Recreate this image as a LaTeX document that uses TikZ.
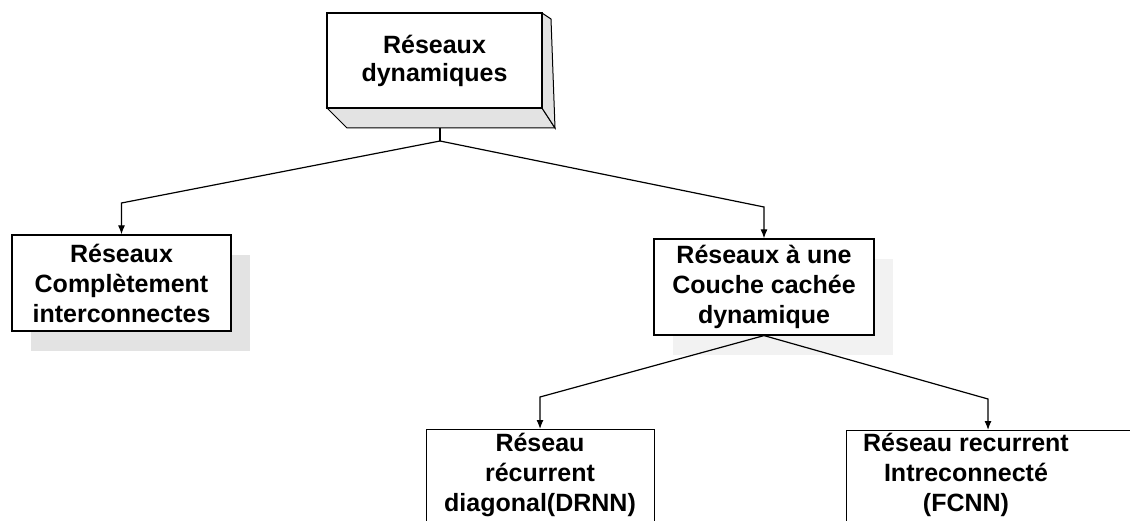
\documentclass[tikz,border=0pt]{standalone}
\usepackage{fontspec}
\setmainfont{Liberation Sans}
\usetikzlibrary{arrows.meta}
\begin{document}
\begin{tikzpicture}[x=1pt,y=-1pt,
  lbl/.style={font=\fontsize{25}{30}\selectfont\bfseries, align=center},
  box/.style={draw=black, line width=1.2pt, fill=white, inner sep=0pt},
  link/.style={draw=black, line width=1.2pt},
  arr/.style={link, -{Latex[length=9pt,width=7pt]}},
  shadow/.style={fill=black!11, draw=none},
  lightshadow/.style={fill=black!5, draw=none}]
\clip (0,0) rectangle (1130,521);
\fill[white] (0,0) rectangle (1130,521);

% top block: front face with shaded bottom and side faces
\path[shadow, draw=black, line width=1pt] (327,108) -- (542,108) -- (555,128) -- (347,128) -- cycle;
\path[shadow, draw=black, line width=1pt] (542,13) -- (551,19) -- (555,128) -- (542,108) -- cycle;
\node[box, lbl, font=\fontsize{25}{28}\selectfont\bfseries, minimum width=215pt, minimum height=95pt] (top) at (434.5,60.5) {Réseaux\\dynamiques};

% second level
\fill[shadow] (31,255) rectangle (250,351);
\node[box, lbl, minimum width=219pt, minimum height=96pt] (left) at (121.5,283) {Réseaux\\Complètement\\interconnectes};

\fill[lightshadow] (673,259) rectangle (893,355);
\node[box, lbl, minimum width=220pt, minimum height=96pt] (mid) at (764,287) {Réseaux à une\\Couche cachée\\dynamique};

% third level (boxes run past the lower edge)
\node[box, anchor=north west, minimum width=228pt, minimum height=150pt] (bl) at (426,429) {};
\node[lbl, anchor=north, inner sep=0pt] (blt) at (540,433) {Réseau\\récurrent\\diagonal(DRNN)};

\node[box, anchor=north west, minimum width=320pt, minimum height=150pt] (br) at (846,430) {};
\node[lbl, anchor=north, inner sep=0pt] (brt) at (966,433) {Réseau recurrent\\Intreconnecté\\(FCNN)};

% connectors
\coordinate (j0) at (440,128);
\coordinate (j1) at (440,141);
\coordinate (kl) at (121.5,203);
\coordinate (km) at (764,207);
\draw[link] (j0) -- (j1);
\draw[arr] (j1) -- (kl) -- (left.north);
\draw[arr] (j1) -- (km) -- (mid.north);

\coordinate (kbl) at (540,397);
\coordinate (kbr) at (988,399);
\draw[arr] (mid.south) -- (kbl) -- (kbl |- bl.north);
\draw[arr] (mid.south) -- (kbr) -- (kbr |- br.north);
\end{tikzpicture}
\end{document}
